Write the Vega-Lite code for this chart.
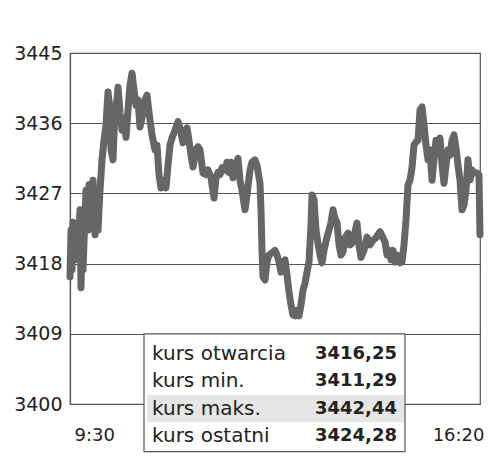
{
  "$schema": "https://vega.github.io/schema/vega-lite/v6.json",
  "width": 410,
  "height": 351,
  "autosize": {"type": "none"},
  "padding": {"left": 70, "top": 53, "right": 20, "bottom": 56},
  "background": "white",
  "config": {
    "view": {"stroke": "#555555", "strokeWidth": 1.2},
    "font": "DejaVu Sans"
  },
  "resolve": {"scale": {"y": "independent"}},
  "layer": [
    {
      "layer": [
        {
          "data": {
            "format": {"parse": {"czas": "date:'%H:%M'"}},
            "values": [
              {"czas": "09:30", "kurs": 3416.3}, {"czas": "09:31", "kurs": 3422.3}, {"czas": "09:32", "kurs": 3417.2},
              {"czas": "09:33", "kurs": 3423.3}, {"czas": "09:35", "kurs": 3418.5}, {"czas": "09:37", "kurs": 3423.0},
              {"czas": "09:38", "kurs": 3419.1}, {"czas": "09:40", "kurs": 3424.9}, {"czas": "09:41", "kurs": 3414.9},
              {"czas": "09:42", "kurs": 3421.0}, {"czas": "09:43", "kurs": 3417.2}, {"czas": "09:45", "kurs": 3424.2},
              {"czas": "09:46", "kurs": 3427.4}, {"czas": "09:48", "kurs": 3422.3}, {"czas": "09:49", "kurs": 3428.1},
              {"czas": "09:51", "kurs": 3423.0}, {"czas": "09:53", "kurs": 3428.7}, {"czas": "09:55", "kurs": 3421.7},
              {"czas": "09:57", "kurs": 3426.2}, {"czas": "09:58", "kurs": 3422.3}, {"czas": "10:00", "kurs": 3427.4},
              {"czas": "10:02", "kurs": 3431.3}, {"czas": "10:04", "kurs": 3433.8}, {"czas": "10:06", "kurs": 3435.8},
              {"czas": "10:08", "kurs": 3440.0}, {"czas": "10:10", "kurs": 3437.7}, {"czas": "10:11", "kurs": 3432.6},
              {"czas": "10:13", "kurs": 3431.3}, {"czas": "10:15", "kurs": 3437.7}, {"czas": "10:17", "kurs": 3439.0},
              {"czas": "10:18", "kurs": 3440.6}, {"czas": "10:20", "kurs": 3437.4}, {"czas": "10:22", "kurs": 3435.1},
              {"czas": "10:24", "kurs": 3436.4}, {"czas": "10:26", "kurs": 3434.2}, {"czas": "10:28", "kurs": 3437.7},
              {"czas": "10:30", "kurs": 3440.9}, {"czas": "10:32", "kurs": 3442.4}, {"czas": "10:34", "kurs": 3440.3},
              {"czas": "10:36", "kurs": 3438.3}, {"czas": "10:38", "kurs": 3439.0}, {"czas": "10:40", "kurs": 3435.5},
              {"czas": "10:42", "kurs": 3436.7}, {"czas": "10:45", "kurs": 3439.0}, {"czas": "10:47", "kurs": 3439.6},
              {"czas": "10:49", "kurs": 3437.4}, {"czas": "10:52", "kurs": 3434.5}, {"czas": "10:55", "kurs": 3432.6},
              {"czas": "10:57", "kurs": 3433.2}, {"czas": "10:59", "kurs": 3429.4}, {"czas": "11:01", "kurs": 3427.7},
              {"czas": "11:04", "kurs": 3428.7}, {"czas": "11:06", "kurs": 3427.7}, {"czas": "11:08", "kurs": 3430.6},
              {"czas": "11:10", "kurs": 3433.2}, {"czas": "11:12", "kurs": 3434.1}, {"czas": "11:15", "kurs": 3435.1},
              {"czas": "11:18", "kurs": 3436.2}, {"czas": "11:20", "kurs": 3435.4}, {"czas": "11:23", "kurs": 3433.5},
              {"czas": "11:25", "kurs": 3434.7}, {"czas": "11:27", "kurs": 3435.4}, {"czas": "11:29", "kurs": 3433.8},
              {"czas": "11:31", "kurs": 3431.9}, {"czas": "11:33", "kurs": 3430.4}, {"czas": "11:36", "kurs": 3432.6},
              {"czas": "11:38", "kurs": 3433.0}, {"czas": "11:40", "kurs": 3432.6}, {"czas": "11:43", "kurs": 3429.6},
              {"czas": "11:46", "kurs": 3429.4}, {"czas": "11:48", "kurs": 3430.0}, {"czas": "11:51", "kurs": 3429.0},
              {"czas": "11:54", "kurs": 3426.4}, {"czas": "11:56", "kurs": 3429.0}, {"czas": "11:58", "kurs": 3429.7},
              {"czas": "12:00", "kurs": 3429.4}, {"czas": "12:02", "kurs": 3430.3}, {"czas": "12:05", "kurs": 3430.0},
              {"czas": "12:07", "kurs": 3431.0}, {"czas": "12:09", "kurs": 3429.7}, {"czas": "12:11", "kurs": 3431.0},
              {"czas": "12:13", "kurs": 3429.0}, {"czas": "12:15", "kurs": 3430.3}, {"czas": "12:18", "kurs": 3431.5},
              {"czas": "12:20", "kurs": 3428.7}, {"czas": "12:22", "kurs": 3427.4}, {"czas": "12:25", "kurs": 3424.9},
              {"czas": "12:27", "kurs": 3426.8}, {"czas": "12:30", "kurs": 3430.0}, {"czas": "12:32", "kurs": 3431.0},
              {"czas": "12:35", "kurs": 3431.3}, {"czas": "12:37", "kurs": 3430.6}, {"czas": "12:40", "kurs": 3428.3},
              {"czas": "12:41", "kurs": 3424.9}, {"czas": "12:42", "kurs": 3419.7}, {"czas": "12:43", "kurs": 3416.3},
              {"czas": "12:45", "kurs": 3415.9}, {"czas": "12:47", "kurs": 3418.2}, {"czas": "12:49", "kurs": 3419.1},
              {"czas": "12:52", "kurs": 3419.4}, {"czas": "12:55", "kurs": 3419.7}, {"czas": "12:57", "kurs": 3419.1},
              {"czas": "12:59", "kurs": 3418.2}, {"czas": "13:01", "kurs": 3416.9}, {"czas": "13:03", "kurs": 3417.4},
              {"czas": "13:05", "kurs": 3418.5}, {"czas": "13:07", "kurs": 3416.5}, {"czas": "13:09", "kurs": 3414.4},
              {"czas": "13:11", "kurs": 3412.7}, {"czas": "13:13", "kurs": 3411.4}, {"czas": "13:15", "kurs": 3411.3},
              {"czas": "13:17", "kurs": 3412.0}, {"czas": "13:19", "kurs": 3411.3}, {"czas": "13:21", "kurs": 3412.7},
              {"czas": "13:23", "kurs": 3414.6}, {"czas": "13:25", "kurs": 3415.5}, {"czas": "13:27", "kurs": 3416.9},
              {"czas": "13:29", "kurs": 3418.2}, {"czas": "13:31", "kurs": 3423.0}, {"czas": "13:32", "kurs": 3426.8},
              {"czas": "13:34", "kurs": 3426.2}, {"czas": "13:36", "kurs": 3422.3}, {"czas": "13:38", "kurs": 3420.6},
              {"czas": "13:40", "kurs": 3419.1}, {"czas": "13:42", "kurs": 3418.1}, {"czas": "13:44", "kurs": 3419.7},
              {"czas": "13:47", "kurs": 3421.4}, {"czas": "13:49", "kurs": 3422.3}, {"czas": "13:51", "kurs": 3423.3},
              {"czas": "13:53", "kurs": 3424.9}, {"czas": "13:55", "kurs": 3423.8}, {"czas": "13:57", "kurs": 3423.3},
              {"czas": "13:59", "kurs": 3420.4}, {"czas": "14:01", "kurs": 3419.1}, {"czas": "14:03", "kurs": 3419.5},
              {"czas": "14:05", "kurs": 3421.3}, {"czas": "14:08", "kurs": 3421.9}, {"czas": "14:10", "kurs": 3420.4},
              {"czas": "14:12", "kurs": 3420.6}, {"czas": "14:15", "kurs": 3422.1}, {"czas": "14:17", "kurs": 3423.2},
              {"czas": "14:19", "kurs": 3420.4}, {"czas": "14:21", "kurs": 3418.8}, {"czas": "14:24", "kurs": 3419.7},
              {"czas": "14:27", "kurs": 3421.4}, {"czas": "14:30", "kurs": 3420.4}, {"czas": "14:33", "kurs": 3421.0},
              {"czas": "14:36", "kurs": 3421.3}, {"czas": "14:38", "kurs": 3421.7}, {"czas": "14:40", "kurs": 3422.1},
              {"czas": "14:43", "kurs": 3421.3}, {"czas": "14:45", "kurs": 3420.8}, {"czas": "14:47", "kurs": 3419.1},
              {"czas": "14:49", "kurs": 3419.7}, {"czas": "14:51", "kurs": 3418.5}, {"czas": "14:53", "kurs": 3419.7},
              {"czas": "14:55", "kurs": 3418.2}, {"czas": "14:57", "kurs": 3419.1}, {"czas": "15:00", "kurs": 3418.1},
              {"czas": "15:02", "kurs": 3418.2}, {"czas": "15:04", "kurs": 3420.4}, {"czas": "15:06", "kurs": 3423.6},
              {"czas": "15:08", "kurs": 3428.1}, {"czas": "15:10", "kurs": 3428.7}, {"czas": "15:12", "kurs": 3430.3},
              {"czas": "15:14", "kurs": 3433.2}, {"czas": "15:16", "kurs": 3433.6}, {"czas": "15:18", "kurs": 3433.8},
              {"czas": "15:20", "kurs": 3437.7}, {"czas": "15:22", "kurs": 3438.1}, {"czas": "15:24", "kurs": 3435.8},
              {"czas": "15:26", "kurs": 3433.2}, {"czas": "15:28", "kurs": 3431.3}, {"czas": "15:30", "kurs": 3432.6},
              {"czas": "15:32", "kurs": 3428.7}, {"czas": "15:34", "kurs": 3431.3}, {"czas": "15:36", "kurs": 3433.8},
              {"czas": "15:38", "kurs": 3432.6}, {"czas": "15:40", "kurs": 3434.1}, {"czas": "15:42", "kurs": 3430.6},
              {"czas": "15:44", "kurs": 3428.3}, {"czas": "15:46", "kurs": 3430.6}, {"czas": "15:48", "kurs": 3432.6},
              {"czas": "15:50", "kurs": 3431.9}, {"czas": "15:52", "kurs": 3433.8}, {"czas": "15:54", "kurs": 3434.5},
              {"czas": "15:56", "kurs": 3432.8}, {"czas": "15:58", "kurs": 3430.6}, {"czas": "16:00", "kurs": 3428.7},
              {"czas": "16:02", "kurs": 3424.9}, {"czas": "16:04", "kurs": 3425.5}, {"czas": "16:06", "kurs": 3427.4},
              {"czas": "16:08", "kurs": 3431.3}, {"czas": "16:10", "kurs": 3428.7}, {"czas": "16:12", "kurs": 3430.0},
              {"czas": "16:14", "kurs": 3429.6}, {"czas": "16:17", "kurs": 3429.6}, {"czas": "16:19", "kurs": 3429.4},
              {"czas": "16:20", "kurs": 3421.7}
            ]
          },
          "mark": {"type": "line", "color": "#666666", "strokeWidth": 7, "strokeJoin": "round", "strokeCap": "round"},
          "encoding": {
            "x": {
              "field": "czas",
              "type": "temporal",
              "scale": {
                "domain": [
                  {"year": 1900, "month": 1, "date": 1, "hours": 9, "minutes": 30},
                  {"year": 1900, "month": 1, "date": 1, "hours": 16, "minutes": 20}
                ]
              },
              "axis": {
                "title": null,
                "values": [
                  {"year": 1900, "month": 1, "date": 1, "hours": 9, "minutes": 30},
                  {"year": 1900, "month": 1, "date": 1, "hours": 16, "minutes": 20}
                ],
                "format": "%-H:%M",
                "labelFlush": true,
                "labelOffset": 4,
                "labelFontSize": 18,
                "labelColor": "#222222",
                "labelPadding": 22,
                "domain": false,
                "ticks": false,
                "grid": false
              }
            },
            "y": {
              "field": "kurs",
              "type": "quantitative",
              "scale": {"domain": [3400, 3445], "nice": false, "zero": false},
              "axis": {
                "title": null,
                "values": [3400, 3409, 3418, 3427, 3436, 3445],
                "format": "d",
                "grid": true,
                "gridColor": "#555555",
                "gridWidth": 1.2,
                "gridOpacity": 1,
                "domain": true,
                "domainColor": "#555555",
                "domainWidth": 1.2,
                "ticks": false,
                "labelFontSize": 19,
                "labelColor": "#222222",
                "labelPadding": 8
              }
            }
          }
        },
        {
          "data": {"values": [{}]},
          "mark": {"type": "rect", "fill": "white", "stroke": "#555555", "strokeWidth": 1.2},
          "encoding": {
            "x": {"datum": {"year": 1900, "month": 1, "date": 1, "hours": 10, "minutes": 44}, "type": "temporal"},
            "x2": {"datum": {"year": 1900, "month": 1, "date": 1, "hours": 15, "minutes": 5}},
            "y": {"datum": 3409, "type": "quantitative"},
            "y2": {"datum": 3393.9}
          }
        }
      ]
    },
    {
      "data": {
        "values": [
          {"pozycja": "kurs otwarcia", "wartosc": "3416,25"},
          {"pozycja": "kurs min.", "wartosc": "3411,29"},
          {"pozycja": "kurs maks.", "wartosc": "3442,44"},
          {"pozycja": "kurs ostatni", "wartosc": "3424,28"}
        ]
      },
      "encoding": {
        "y": {
          "field": "pozycja",
          "type": "nominal",
          "sort": null,
          "scale": {"range": [287, 397], "paddingInner": 0, "paddingOuter": 0},
          "axis": null
        }
      },
      "layer": [
        {
          "mark": {"type": "rect", "strokeWidth": 0},
          "encoding": {
            "x": {"datum": {"year": 1900, "month": 1, "date": 1, "hours": 10, "minutes": 47}, "type": "temporal"},
            "x2": {"datum": {"year": 1900, "month": 1, "date": 1, "hours": 15, "minutes": 4}},
            "fill": {"condition": {"test": "datum.pozycja === 'kurs maks.'", "value": "#e6e6e6"}, "value": "white"}
          }
        },
        {
          "mark": {"type": "text", "align": "left", "baseline": "middle", "fontSize": 20, "color": "#222222"},
          "encoding": {
            "x": {"datum": {"year": 1900, "month": 1, "date": 1, "hours": 10, "minutes": 52}, "type": "temporal"},
            "text": {"field": "pozycja"}
          }
        },
        {
          "mark": {"type": "text", "align": "right", "baseline": "middle", "fontSize": 18, "fontWeight": "bold", "color": "#222222"},
          "encoding": {
            "x": {"datum": {"year": 1900, "month": 1, "date": 1, "hours": 14, "minutes": 57}, "type": "temporal"},
            "text": {"field": "wartosc"}
          }
        }
      ]
    }
  ]
}
